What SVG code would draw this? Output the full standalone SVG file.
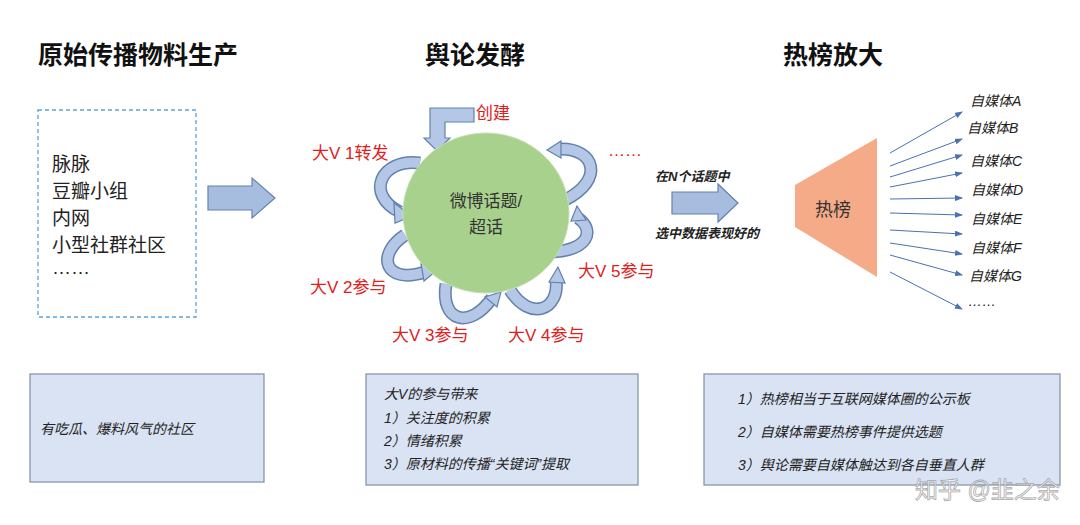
<svg xmlns="http://www.w3.org/2000/svg" width="1080" height="525" viewBox="0 0 1080 525">
<style>
text{font-family:"Liberation Sans","Noto Sans CJK SC",sans-serif}
.t{font-size:25px;font-weight:bold;fill:#111}
.r{font-size:17px;fill:#e0201c}
.k{font-size:19px;fill:#222}
.i{font-size:14px;font-style:italic;fill:#222}
.box{fill:#dae3f3;stroke:#7f8fa6;stroke-width:1.2}
.ao{fill:none;stroke:#6381ad;stroke-width:13}
.ai{fill:none;stroke:#b4c7e7;stroke-width:10}
.ah{fill:#b4c7e7;stroke:#6381ad;stroke-width:1.2}
.fan{stroke:#4a72b0;stroke-width:1;marker-end:url(#m)}
</style>
<defs>
<marker id="m" markerWidth="8" markerHeight="6" refX="7" refY="3" orient="auto" markerUnits="userSpaceOnUse"><path d="M0,0L8,3L0,6z" fill="#4a72b0"/></marker>
</defs>
<rect width="1080" height="525" fill="#fff"/>
<g id="titles">
<text class="t" x="38" y="64">原始传播物料生产</text>
<text class="t" x="425" y="64">舆论发酵</text>
<text class="t" x="783" y="64">热榜放大</text>
</g>
<g id="source">
<rect x="38" y="110" width="158" height="207" fill="none" stroke="#5ba3d9" stroke-width="1.3" stroke-dasharray="4,3"/>
<text class="k" x="52" y="171">脉脉</text>
<text class="k" x="52" y="198">豆瓣小组</text>
<text class="k" x="52" y="225">内网</text>
<text class="k" x="52" y="252">小型社群社区</text>
<text class="k" x="52" y="274" font-size="14">……</text>
</g>
<g id="connectors">
<path d="M208,186H252V178L275,198L252,218V210H208Z" fill="#a7bde0" stroke="#6381ad" stroke-width="1.2"/>
<path d="M672,192H718V184L738,203L718,222V214H672Z" fill="#a7bde0" stroke="#6381ad" stroke-width="1.2"/>
<path d="M474,108H430V138H424L437,151L450,138H445V122H474Z" fill="#b4c7e7" stroke="#6381ad" stroke-width="1.2"/>
<g id="loops">
<path class="ao" d="M420,163C380,158 365,195 400,212"/><path class="ai" d="M420,163C380,158 365,195 400,212"/>
<polygon class="ah" points="394,203 412,216 395,223"/>
<path class="ao" d="M405,235C375,255 385,285 425,272"/><path class="ai" d="M405,235C375,255 385,285 425,272"/>
<polygon class="ah" points="421,264 437,270 424,281"/>
<path class="ao" d="M446,284C440,322 470,330 492,298"/><path class="ai" d="M446,284C440,322 470,330 492,298"/>
<polygon class="ah" points="485,297 501,292 497,307"/>
<path class="ao" d="M510,290C530,322 560,310 556,280"/><path class="ai" d="M510,290C530,322 560,310 556,280"/>
<polygon class="ah" points="549,282 558,267 565,283"/>
<path class="ao" d="M546,252C590,252 595,230 578,218"/><path class="ai" d="M546,252C590,252 595,230 578,218"/>
<polygon class="ah" points="571,221 577,206 586,220"/>
<path class="ao" d="M565,200C605,180 595,148 560,149"/><path class="ai" d="M565,200C605,180 595,148 560,149"/>
<polygon class="ah" points="561,141 547,150 561,158"/>
</g>
<line class="fan" x1="890" y1="153" x2="962" y2="112"/>
<line class="fan" x1="890" y1="166" x2="962" y2="139"/>
<line class="fan" x1="890" y1="177" x2="962" y2="155"/>
<line class="fan" x1="890" y1="187" x2="962" y2="173"/>
<line class="fan" x1="890" y1="199" x2="962" y2="198"/>
<line class="fan" x1="890" y1="213" x2="962" y2="215"/>
<line class="fan" x1="890" y1="230" x2="962" y2="234"/>
<line class="fan" x1="890" y1="243" x2="962" y2="254"/>
<line class="fan" x1="890" y1="255" x2="962" y2="275"/>
<line class="fan" x1="890" y1="272" x2="962" y2="309"/>
</g>
<g id="topic">
<ellipse cx="486" cy="213" rx="83" ry="80" fill="#a9d18e" stroke="#c5dfb3" stroke-width="1"/>
<text x="486" y="207" font-size="17" fill="#333" text-anchor="middle">微博话题/</text>
<text x="486" y="233" font-size="17" fill="#333" text-anchor="middle">超话</text>
</g>
<g id="labels">
<text class="r" x="476" y="119">创建</text>
<text class="r" x="312" y="159">大V 1转发</text>
<text class="r" x="608" y="156" font-size="12">……</text>
<text class="r" x="310" y="293">大V 2参与</text>
<text class="r" x="392" y="341">大V 3参与</text>
<text class="r" x="508" y="341">大V 4参与</text>
<text class="r" x="578" y="277">大V 5参与</text>
<text x="655" y="181" font-size="13" font-style="italic" font-weight="bold" fill="#222">在N个话题中</text>
<text x="655" y="238" font-size="13" font-style="italic" font-weight="bold" fill="#222">选中数据表现好的</text>
</g>
<g id="hotlist">
<polygon points="795,185 877,138 877,277 795,227" fill="#f4a582" opacity="0.95"/>
<text x="815" y="216" font-size="18" fill="#333">热榜</text>
</g>
<g id="media">
<text class="i" x="970" y="106">自媒体A</text>
<text class="i" x="967" y="133">自媒体B</text>
<text class="i" x="970" y="166">自媒体C</text>
<text class="i" x="971" y="195">自媒体D</text>
<text class="i" x="971" y="224">自媒体E</text>
<text class="i" x="971" y="253">自媒体F</text>
<text class="i" x="969" y="281">自媒体G</text>
<text class="i" x="968" y="306" font-size="10">……</text>
</g>
<g id="note1">
<rect class="box" x="30" y="374" width="234" height="108"/>
<text class="i" x="40" y="434" font-size="15">有吃瓜、爆料风气的社区</text>
</g>
<g id="note2">
<rect class="box" x="366" y="374" width="272" height="111"/>
<text class="i" x="384" y="399" font-size="15">大V的参与带来</text>
<text class="i" x="384" y="423" font-size="15">1）关注度的积累</text>
<text class="i" x="384" y="446" font-size="15">2）情绪积累</text>
<text class="i" x="384" y="469" font-size="15">3）原材料的传播“关键词”提取</text>
</g>
<g id="note3">
<rect class="box" x="704" y="374" width="356" height="111"/>
<text class="i" x="738" y="404" font-size="16">1）热榜相当于互联网媒体圈的公示板</text>
<text class="i" x="738" y="437" font-size="16">2）自媒体需要热榜事件提供选题</text>
<text class="i" x="738" y="470" font-size="16">3）舆论需要自媒体触达到各自垂直人群</text>
</g>
<text x="915" y="498" font-size="23" fill="#fff" stroke="#999" stroke-width="0.8" opacity="0.8">知乎 @韭之余</text>
</svg>
